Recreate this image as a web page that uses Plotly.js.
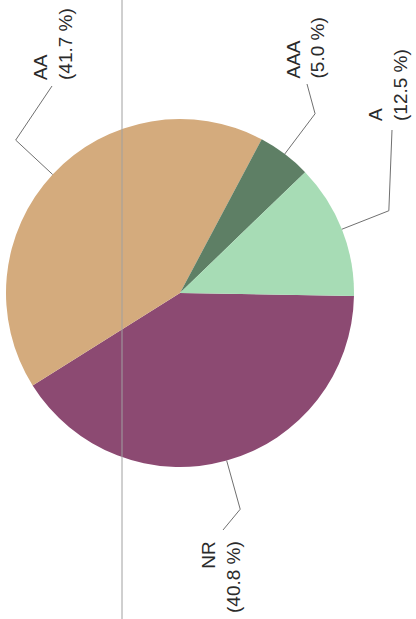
<!DOCTYPE html>
<html><head><meta charset="utf-8">
<script src="https://cdn.plot.ly/plotly-3.0.1.min.js"></script>
<style>html,body{margin:0;padding:0;background:#fff}</style>
</head><body><div id="chart" style="width:416px;height:619px"></div>
<script>
// ---- data ----
const categories = ['NR', 'AA', 'AAA', 'A'];
const shares = [40.8, 41.7, 5.0, 12.5];
const shareLabels = ['40.8 %', '41.7 %', '5.0 %', '12.5 %'];
const colors = ['#8c4a72', '#d4ab7d', '#5e7f65', '#a7dcb5'];

// ---- layout / style ----
const W = 416, H = 619;
const cx = 180, cy = 293, R = 174;   // pie placement (pixels)
const rotation = 91;                  // first slice starts at ~3 o'clock
const elbowR = 1.29;                  // leader elbow distance (in radii)
const labelStyle = {
  NR:  {x: 221, y: 539, yanchor: 'top',    align: 'right', end: [223, 530]},
  AA:  {x: 53,  y: 82,  yanchor: 'bottom', align: 'left',  end: [52, 86]},
  AAA: {x: 305, y: 81,  yanchor: 'bottom', align: 'left',  end: [307, 84]},
  A:   {x: 388, y: 123, yanchor: 'bottom', align: 'left',  end: [392, 130]}
};
const px = x => x / W;
const py = y => 1 - y / H;

const total = shares.reduce((a, b) => a + b, 0);
const shapes = [];
const annotations = [];
let cum = 0;
categories.forEach((c, i) => {
  const mid = (rotation + 360 * (cum + shares[i] / 2) / total) * Math.PI / 180;
  cum += shares[i];
  const p0 = [cx + R * Math.sin(mid), cy - R * Math.cos(mid)];
  const p1 = [cx + R * elbowR * Math.sin(mid), cy - R * elbowR * Math.cos(mid)];
  const st = labelStyle[c];
  const p2 = st.end;
  shapes.push({
    type: 'path', xref: 'paper', yref: 'paper',
    path: `M ${px(p0[0])} ${py(p0[1])} L ${px(p1[0])} ${py(p1[1])} L ${px(p2[0])} ${py(p2[1])}`,
    line: {color: '#707070', width: 1}
  });
  annotations.push({
    xref: 'paper', yref: 'paper', x: px(st.x), y: py(st.y),
    xanchor: 'center', yanchor: st.yanchor, align: st.align,
    text: c + '<br>(' + shareLabels[i] + ')', textangle: -90, showarrow: false,
    font: {family: 'Liberation Sans, Arial, sans-serif', size: 19, color: '#2a2a2a'}
  });
});
// faint vertical fold line of the scanned page
shapes.push({type: 'line', xref: 'paper', yref: 'paper', x0: px(122), x1: px(122), y0: 0, y1: 1,
  line: {color: '#a0a0a0', width: 1}, layer: 'above'});

const trace = {
  type: 'pie', labels: categories, values: shares, sort: false,
  direction: 'clockwise', rotation: rotation, textinfo: 'none', hoverinfo: 'none',
  marker: {colors: colors, line: {width: 0}},
  domain: {x: [px(cx - R), px(cx + R)], y: [py(cy + R), py(cy - R)]},
  showlegend: false
};
Plotly.newPlot('chart', [trace], {
  width: W, height: H, margin: {l: 0, r: 0, t: 0, b: 0},
  paper_bgcolor: '#fff', showlegend: false, shapes: shapes, annotations: annotations
}, {staticPlot: true});
</script></body></html>
